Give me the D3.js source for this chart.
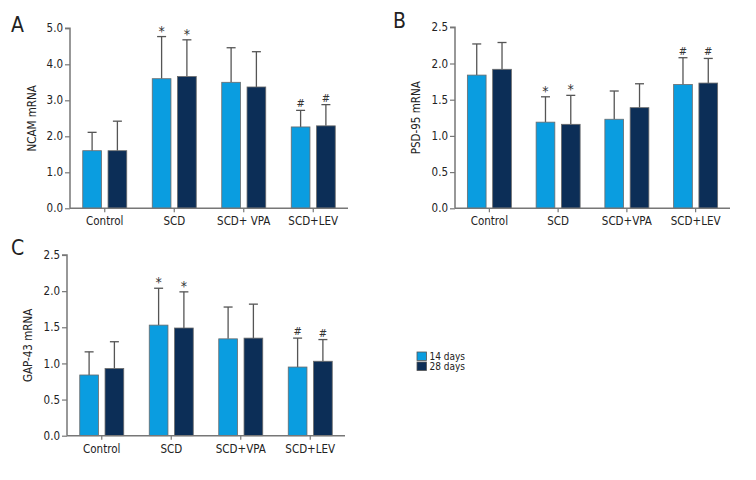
<!DOCTYPE html>
<html>
<head>
<meta charset="utf-8">
<script src="https://cdn.jsdelivr.net/npm/d3@7"></script>
<style>
  body { margin: 0; background: #fff; }
  svg text { font-family: "DejaVu Sans Condensed", "Liberation Sans Narrow", sans-serif; font-stretch: condensed; fill: #222; }
</style>
</head>
<body>
<svg id="chart" width="756" height="480"></svg>
<script>
var groups = ["Control", "SCD", "SCD+ VPA", "SCD+LEV"];
var groupsB = ["Control", "SCD", "SCD+VPA", "SCD+LEV"];
var groupsC = ["Control", "SCD", "SCD+VPA", "SCD+LEV"];
var series = ["14 days", "28 days"];
var colors = ["#0a9de0", "#0c2e57"];

// mean values [14 days, 28 days] per group
var ncamMean = [[1.60, 1.60], [3.60, 3.66], [3.50, 3.37], [2.26, 2.29]];
var ncamErr  = [[2.11, 2.42], [4.77, 4.68], [4.46, 4.35], [2.72, 2.88]];
var ncamMark = [["", ""], ["*", "*"], ["", ""], ["#", "#"]];
var ncamTicks = [0, 1, 2, 3, 4, 5];

var psdMean = [[1.84, 1.92], [1.19, 1.16], [1.23, 1.39], [1.71, 1.73]];
var psdErr  = [[2.27, 2.29], [1.54, 1.56], [1.62, 1.72], [2.08, 2.07]];
var psdMark = [["", ""], ["*", "*"], ["", ""], ["#", "#"]];
var halfTicks = [0, 0.5, 1, 1.5, 2, 2.5];

var gapMean = [[0.84, 0.93], [1.53, 1.49], [1.34, 1.35], [0.95, 1.03]];
var gapErr  = [[1.16, 1.30], [2.04, 1.99], [1.78, 1.82], [1.35, 1.33]];
var gapMark = [["", ""], ["*", "*"], ["", ""], ["#", "#"]];

var svg = d3.select("#chart");

function panel(o) {
  var g = svg.append("g");
  var x = d3.scaleBand().domain(o.cats).range([o.x0, o.x1]);
  var xs = d3.scaleBand().domain(series).range([-22, 22]).paddingInner(0.26);
  var y = d3.scaleLinear().domain([0, o.max]).range([o.y0, o.yTop]);

  var bars = [];
  o.cats.forEach(function(c, i) {
    series.forEach(function(s, j) {
      bars.push({cat: c, s: s, j: j, v: o.mean[i][j], e: o.err[i][j], m: o.mark[i][j]});
    });
  });

  var bx = function(d) { return x(d.cat) + x.bandwidth() / 2 + xs(d.s); };

  // error whiskers
  g.selectAll(".whisk").data(bars).enter().append("line")
    .attr("x1", function(d) { return bx(d) + xs.bandwidth() / 2; })
    .attr("x2", function(d) { return bx(d) + xs.bandwidth() / 2; })
    .attr("y1", function(d) { return y(d.v); })
    .attr("y2", function(d) { return y(d.e); })
    .attr("stroke", "#555").attr("stroke-width", 1.3);
  g.selectAll(".cap").data(bars).enter().append("line")
    .attr("x1", function(d) { return bx(d) + xs.bandwidth() / 2 - 4.5; })
    .attr("x2", function(d) { return bx(d) + xs.bandwidth() / 2 + 4.5; })
    .attr("y1", function(d) { return y(d.e); })
    .attr("y2", function(d) { return y(d.e); })
    .attr("stroke", "#555").attr("stroke-width", 1.3);

  g.selectAll(".bar").data(bars).enter().append("rect")
    .attr("x", bx)
    .attr("width", xs.bandwidth())
    .attr("y", function(d) { return y(d.v); })
    .attr("height", function(d) { return o.y0 - y(d.v); })
    .attr("fill", function(d) { return colors[d.j]; })
    .attr("stroke", "#6b6b6b").attr("stroke-width", 0.8);

  g.selectAll(".mark").data(bars.filter(function(d) { return d.m; })).enter().append("text")
    .attr("x", function(d) { return bx(d) + xs.bandwidth() / 2; })
    .attr("y", function(d) { return y(d.e) - (d.m == "*" ? 1 : 3); })
    .attr("text-anchor", "middle")
    .attr("font-size", function(d) { return d.m == "*" ? 14 : 11; })
    .style("fill", "#333")
    .text(function(d) { return d.m; });

  var ya = g.append("g")
    .attr("transform", "translate(" + o.x0 + ",0)")
    .call(d3.axisLeft(y).tickValues(o.ticks).tickFormat(d3.format(".1f")).tickSize(5).tickPadding(2));
  var xa = g.append("g")
    .attr("transform", "translate(0," + o.y0 + ")")
    .call(d3.axisBottom(x).tickSize(4).tickPadding(5).tickSizeOuter(0));
  [ya, xa].forEach(function(a) {
    a.select(".domain").attr("stroke", "#777").attr("stroke-width", 1.5);
    a.selectAll(".tick line").attr("stroke", "#777").attr("stroke-width", 1.2);
    a.selectAll("text").attr("font-size", 11.5).attr("fill", "#222");
  });
  ya.select(".domain").attr("d", "M0," + o.y0 + "V" + o.yTop + "H-5");
  xa.select(".domain").attr("d", "M" + o.x0 + ",0H" + o.x1);

  g.append("text")
    .attr("transform", "translate(" + o.labelX + "," + ((o.y0 + o.yTop) / 2) + ") rotate(-90)")
    .attr("text-anchor", "middle").attr("font-size", 11.5)
    .text(o.ylabel);

  g.append("text")
    .attr("x", o.tagX).attr("y", o.tagY)
    .attr("font-size", 21)
    .text(o.tag);
}

panel({cats: groups, mean: ncamMean, err: ncamErr, mark: ncamMark, ticks: ncamTicks, max: 5,
  x0: 70, x1: 348, y0: 208.3, yTop: 28.3, ylabel: "NCAM mRNA", labelX: 36, tag: "A", tagX: 11, tagY: 32});
panel({cats: groupsB, mean: psdMean, err: psdErr, mark: psdMark, ticks: halfTicks, max: 2.5,
  x0: 455, x1: 730, y0: 208.3, yTop: 27.3, ylabel: "PSD-95 mRNA", labelX: 420, tag: "B", tagX: 393, tagY: 28});
panel({cats: groupsC, mean: gapMean, err: gapErr, mark: gapMark, ticks: halfTicks, max: 2.5,
  x0: 67, x1: 345, y0: 435.7, yTop: 255, ylabel: "GAP-43 mRNA", labelX: 32, tag: "C", tagX: 11, tagY: 255});

// legend
var leg = svg.append("g").attr("transform", "translate(417,352)");
series.forEach(function(s, i) {
  leg.append("rect").attr("x", 0).attr("y", i * 10).attr("width", 9.5).attr("height", 8.5)
    .attr("fill", colors[i]).attr("stroke", "#555").attr("stroke-width", 0.8);
  leg.append("text").attr("x", 12.5).attr("y", i * 10 + 8).attr("font-size", 10).text(s);
});
</script>
</body>
</html>
